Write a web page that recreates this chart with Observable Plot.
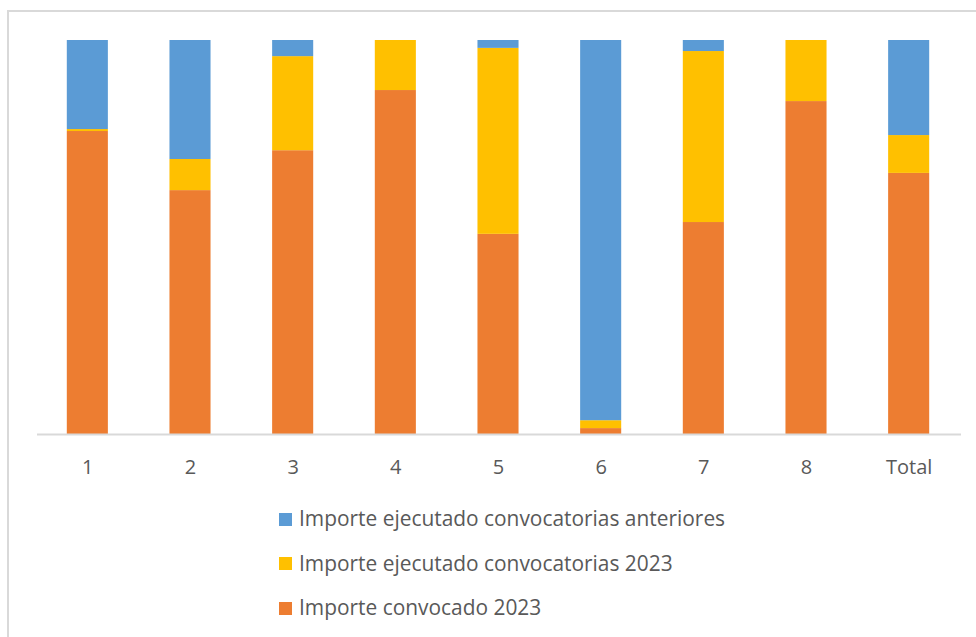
<!DOCTYPE html>
<html>
<head>
<meta charset="utf-8">
<script src="https://cdn.jsdelivr.net/npm/d3@7"></script>
<script src="https://cdn.jsdelivr.net/npm/@observablehq/plot@0.6"></script>
<style>
  html, body { margin: 0; padding: 0; background: #fff; }
  #wrap { position: relative; width: 976px; height: 637px; overflow: hidden; font-family: "Open Sans", sans-serif; }
  #frame { position: absolute; left: 7px; top: 10px; width: 975px; height: 640px; border-top: 2px solid #d9d9d9; border-left: 2px solid #d9d9d9; box-sizing: border-box; }
  #chart { position: absolute; left: 0; top: 0; }
  #legend { position: absolute; left: 279px; top: 496px; color: #595959; font-size: 20.9px; }
  .item { display: flex; align-items: center; height: 44.5px; white-space: nowrap; }
  .sw { width: 13px; height: 13px; margin-right: 7px; flex: none; position: relative; top: 1px; }
</style>
</head>
<body>
<div id="wrap">
  <div id="frame"></div>
  <div id="chart"></div>
  <div id="legend"></div>
</div>
<script>
const categories = ["1", "2", "3", "4", "5", "6", "7", "8", "Total"];
const seriesNames = [
  "Importe convocado 2023",
  "Importe ejecutado convocatorias 2023",
  "Importe ejecutado convocatorias anteriores"
];
const seriesColors = ["#ED7D31", "#FFC000", "#5B9BD5"];
const convocado2023 = [0.769, 0.619, 0.721, 0.873, 0.508, 0.015, 0.538, 0.845, 0.662];
const ejecutado2023 = [0.005, 0.079, 0.239, 0.127, 0.472, 0.020, 0.434, 0.155, 0.096];
const ejecutadoAnteriores = [0.226, 0.302, 0.041, 0.000, 0.020, 0.965, 0.028, 0.000, 0.241];

const seriesValues = [convocado2023, ejecutado2023, ejecutadoAnteriores];
const data = [];
seriesNames.forEach((s, i) => {
  categories.forEach((c, j) => data.push({ category: c, series: s, value: seriesValues[i][j] }));
});

const chart = Plot.plot({
  width: 976,
  height: 490,
  marginLeft: 36,
  marginRight: 16,
  marginTop: 40,
  marginBottom: 56,
  style: { fontFamily: "'Open Sans', sans-serif", fontSize: "20px", color: "#595959", background: "transparent", overflow: "visible" },
  x: { domain: categories, paddingInner: 0.6, paddingOuter: 0.3, round: false, label: null },
  y: { domain: [0, 1], axis: null },
  color: { domain: seriesNames, range: seriesColors },
  marks: [
    Plot.barY(data, Plot.stackY({ x: "category", y: "value", fill: "series", offset: "normalize", order: null })),
    Plot.ruleY([0], { stroke: "#d9d9d9", strokeWidth: 2, dx: 1 }),
    Plot.axisX({ tickSize: 0, tickPadding: 25, fontSize: 20, label: null })
  ]
});
document.getElementById("chart").appendChild(chart);

const legend = document.getElementById("legend");
[2, 1, 0].forEach(i => {
  const item = document.createElement("div");
  item.className = "item";
  const sw = document.createElement("span");
  sw.className = "sw";
  sw.style.background = seriesColors[i];
  const t = document.createElement("span");
  t.textContent = seriesNames[i];
  item.appendChild(sw);
  item.appendChild(t);
  legend.appendChild(item);
});
</script>
</body>
</html>
